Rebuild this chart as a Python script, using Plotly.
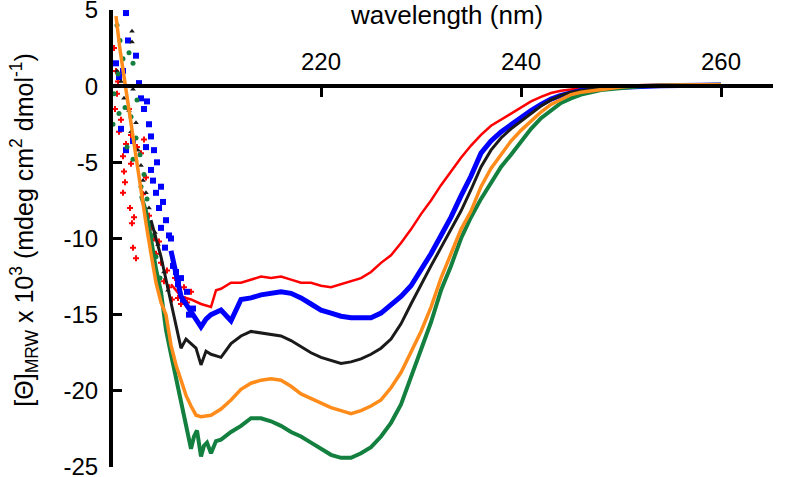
import plotly.graph_objects as go

# ---------------- data ----------------
tail_wl = [246, 248, 250, 252, 254, 256, 258, 260]

red_wl = [205, 206, 207, 208, 209, 209.5, 210, 211, 212, 213, 214, 215, 216, 217, 218, 219, 220,
          221, 222, 223, 224, 225, 226, 227, 228, 229, 230, 231, 232, 233, 234, 235, 236, 237,
          238, 239, 240, 241, 242, 243, 244, 245] + tail_wl
red_val = [-13.0, -13.8, -14.0, -14.3, -14.5, -13.4, -13.3, -12.9, -12.9, -12.7, -12.5, -12.6, -12.5,
           -12.7, -12.9, -12.9, -13.1, -13.2, -13.0, -12.8, -12.6, -12.2, -11.6, -11.1, -10.3, -9.4,
           -8.4, -7.5, -6.5, -5.6, -4.7, -3.9, -3.2, -2.6, -2.2, -1.8, -1.4, -1.0, -0.7, -0.45,
           -0.3, -0.2, -0.13, -0.05, 0.0, 0.05, 0.05, 0.08, 0.05, 0.1]
red_noise_wl = [199.3, 199.5, 199.6, 199.4, 199.8, 199.7, 200.0, 200.2, 200.3, 200.2, 200.4, 200.5,
                200.8, 201.0, 200.9, 201.1, 201.3, 201.2, 201.5, 201.0, 201.6, 202.0, 202.3, 202.5,
                202.2, 202.8, 203.0, 203.3, 203.5, 203.8, 204.0, 204.3, 204.6, 204.8, 205.1, 205.4,
                205.7, 206.0, 206.3, 206.6, 207.0]
red_noise_val = [2.5, 1.0, -0.5, -1.5, -3.0, 0.3, -2.2, -4.6, -5.6, -7.0, -6.3, -3.8, -1.5, -3.2,
                 -8.0, -9.0, -8.6, -10.6, -11.3, -5.1, -4.0, -4.4, -3.5, -6.0, -7.1, -8.5, -9.3,
                 -10.0, -11.0, -10.2, -11.6, -12.8, -12.1, -13.2, -14.0, -12.6, -13.9, -14.3,
                 -13.2, -14.2, -13.5]

blue_wl = [205, 206, 207, 208, 208.5, 209, 210, 211, 212, 213, 214, 215, 216, 217, 218, 219, 220,
           221, 222, 223, 224, 225, 226, 227, 228, 229, 230, 231, 232, 233, 234, 235, 236, 237,
           238, 239, 240, 241, 242, 243, 244, 245] + tail_wl
blue_val = [-10.8, -13.8, -14.8, -15.8, -15.3, -15.0, -14.7, -15.4, -14.0, -13.9, -13.7, -13.6, -13.5,
            -13.6, -13.9, -14.3, -14.7, -14.9, -15.1, -15.2, -15.2, -15.2, -14.9, -14.4, -13.8,
            -13.1, -12.1, -11.0, -9.8, -8.6, -7.2, -5.9, -4.4, -3.6, -3.0, -2.5, -2.0, -1.6, -1.2,
            -0.85, -0.6, -0.4, -0.28, -0.12, -0.05, 0.0, 0.03, 0.05, 0.05, 0.08]
blue_noise_wl = [200.5, 200.7, 199.5, 199.8, 200.2, 201.5, 201.8, 202.0, 202.3, 202.6, 202.8, 203.0,
                 202.5, 201.2, 200.5, 200.0, 203.3, 203.0, 203.6, 203.2, 203.5, 204.0, 203.8, 204.2,
                 204.5, 204.0, 204.8, 204.4, 205.0, 205.2, 205.5, 205.7, 206.0, 206.2, 206.6, 206.8,
                 207.2]
blue_noise_val = [4.8, 3.0, 1.5, 0.6, 1.0, 2.0, 0.2, -0.8, -1.5, -1.0, -2.5, -3.3, -4.0, -3.6, -4.2,
                  -2.8, -4.2, -5.5, -5.0, -6.2, -7.0, -6.6, -8.0, -7.6, -8.8, -9.3, -9.8, -10.6,
                  -10.0, -11.8, -12.2, -13.0, -12.6, -14.0, -13.5, -15.0, -14.6]

black_wl = [203, 204, 205, 205.5, 206, 206.5, 207, 207.5, 208, 208.5, 209, 210, 211, 212, 213, 214,
            215, 216, 217, 218, 219, 220, 221, 222, 223, 224, 225, 226, 227, 228, 229, 230, 231,
            232, 233, 234, 235, 236, 237, 238, 239, 240, 241, 242, 243, 244, 245] + tail_wl
black_val = [-8.8, -11.2, -14.2, -15.8, -17.2, -16.6, -16.9, -17.2, -18.3, -17.4, -17.6, -17.8, -16.9,
             -16.4, -16.1, -16.2, -16.3, -16.4, -16.7, -17.1, -17.5, -17.8, -18.0, -18.2, -18.1,
             -17.9, -17.6, -17.2, -16.6, -15.6, -14.3, -13.0, -11.8, -10.6, -9.4, -8.2, -6.8,
             -5.3, -4.2, -3.4, -2.8, -2.3, -1.8, -1.3, -0.9, -0.6, -0.4, -0.28, -0.12, -0.05,
             0.0, 0.03, 0.05, 0.05, 0.08]
black_noise_wl = [199.6, 200.0, 201.1, 201.1, 200.3, 200.8, 201.2, 201.5, 201.0, 201.7, 202.0, 202.2,
                  202.5, 202.8, 203.4, 203.7, 204.3, 204.7]
black_noise_val = [1.0, 0.3, 3.6, 2.9, -0.8, -1.6, -0.2, -2.4, -3.0, -4.2, -5.2, -6.2, -7.0, -8.0,
                   -9.6, -10.4, -12.2, -13.4]

orange_wl = [199.5, 199.9, 200.4, 200.9, 201.4, 202.0, 202.5, 203.0, 203.5, 204.0, 204.5, 205.0,
             205.5, 206.0, 206.5, 207.0, 207.5, 208, 209, 210, 211, 212, 213, 214, 215, 216, 217,
             218, 219, 220, 221, 222, 223, 224, 225, 226, 227, 228, 229, 230, 231, 232, 233, 234,
             235, 236, 237, 238, 239, 240, 241, 242, 243, 244, 245] + tail_wl
orange_val = [4.6, 2.4, 0.2, -2.0, -4.0, -7.0, -9.0, -11.0, -12.9, -14.2, -15.0, -17.0, -18.3, -19.3,
              -20.3, -21.0, -21.6, -21.7, -21.6, -21.2, -20.6, -19.9, -19.5, -19.3, -19.2, -19.3,
              -19.7, -20.2, -20.5, -20.8, -21.1, -21.3, -21.5, -21.3, -21.0, -20.6, -19.8, -18.8,
              -17.4, -16.1, -14.5, -12.6, -11.0, -9.4, -8.2, -6.6, -5.4, -4.5, -3.6, -2.9, -2.3,
              -1.7, -1.2, -0.85, -0.55, -0.4, -0.2, -0.05, 0.05, 0.08, 0.06, 0.1, 0.1]

green_wl = [202, 202.5, 203, 203.5, 204, 204.5, 205, 205.5, 206, 206.5, 207, 207.3, 207.6, 208,
            208.3, 208.6, 209, 209.5, 210, 211, 212, 213, 214, 215, 216, 217, 218, 219, 220, 221,
            222, 223, 224, 225, 226, 227, 228, 229, 230, 231, 232, 233, 234, 235, 236, 237, 238,
            239, 240, 241, 242, 243, 244, 245] + tail_wl
green_val = [-7.2, -8.2, -10.0, -12.0, -13.5, -16.0, -17.6, -19.2, -20.6, -22.2, -23.8, -23.0, -22.6,
             -24.3, -23.6, -23.4, -24.1, -23.3, -23.2, -22.7, -22.3, -21.8, -21.8, -22.0, -22.3,
             -22.7, -23.0, -23.4, -23.8, -24.2, -24.4, -24.4, -24.1, -23.7, -23.0, -22.1, -20.9,
             -19.1, -17.2, -15.5, -13.4, -11.8, -10.0, -8.6, -7.4, -6.3, -5.3, -4.5, -3.6, -2.8,
             -2.1, -1.6, -1.1, -0.8, -0.55, -0.25, -0.1, 0.0, 0.05, 0.05, 0.08, 0.1]
green_noise_wl = [199.6, 199.9, 200.2, 200.8, 201.2, 199.7, 199.3, 199.2, 199.8, 200.4, 201.0, 201.6,
                  201.5, 200.6, 201.9, 201.2, 202.3, 202.0, 202.6, 202.9, 203.3, 203.5, 203.9]
green_noise_val = [4.0, 3.0, 1.8, 2.2, 1.5, 0.8, -0.5, -2.5, -1.8, -1.4, -2.0, -0.9, -3.4, -4.0,
                   -4.5, -4.8, -5.8, -6.6, -7.4, -9.0, -9.8, -11.2, -12.6]

x_ticks = [220, 240, 260]
y_ticks = [5, 0, -5, -10, -15, -20, -25]
x_range = [199.2, 265.2]
y_range = [-25, 5]

# ---------------- colours / styles ----------------
RED, BLUE, BLACK, ORANGE, GREEN = "#ff0000", "#0000ff", "#1a1a1a", "#ff8c1a", "#138040"
FONT = "Arial, Liberation Sans, sans-serif"
TICK_SIZE = 24

fig = go.Figure()

def add_noise(wl, val, color, symbol, size):
    fig.add_trace(go.Scatter(x=wl, y=val, mode="markers",
                             marker=dict(color=color, symbol=symbol, size=size, line=dict(width=0)),
                             showlegend=False, hoverinfo="skip", cliponaxis=False))

def add_line(wl, val, color, width):
    fig.add_trace(go.Scatter(x=wl, y=val, mode="lines",
                             line=dict(color=color, width=width),
                             showlegend=False, hoverinfo="skip"))

add_noise(red_noise_wl, red_noise_val, RED, "cross", 5)
add_noise(blue_noise_wl, blue_noise_val, BLUE, "square", 6)
add_noise(black_noise_wl, black_noise_val, BLACK, "triangle-up", 5)
add_noise(green_noise_wl, green_noise_val, GREEN, "circle", 5)

add_line(red_wl, red_val, RED, 2.5)
add_line(blue_wl, blue_val, BLUE, 5)
add_line(black_wl, black_val, BLACK, 3)
add_line(green_wl, green_val, GREEN, 4)
add_line(orange_wl, orange_val, ORANGE, 3.5)

zero_pos = (0 - y_range[0]) / (y_range[1] - y_range[0])

fig.update_layout(
    width=800, height=477,
    margin=dict(l=113, r=27, t=10, b=10, autoexpand=False),
    paper_bgcolor="white", plot_bgcolor="white",
    font=dict(family=FONT, size=TICK_SIZE, color="black"),
    showlegend=False,
    xaxis=dict(range=x_range, tickvals=x_ticks, ticktext=[str(v) for v in x_ticks],
               side="top", anchor="free", position=zero_pos, automargin=False,
               showline=True, linecolor="black", linewidth=4,
               ticks="inside", ticklen=9, tickwidth=3, tickcolor="black",
               showgrid=False, zeroline=False, ticklabelstandoff=5,
               ticklabeloverflow="allow",
               tickfont=dict(family=FONT, size=TICK_SIZE, color="black")),
    yaxis=dict(range=y_range, tickvals=y_ticks, ticktext=[str(v) for v in y_ticks],
               automargin=False,
               showline=True, linecolor="black", linewidth=4,
               ticks="inside", ticklen=9, tickwidth=3, tickcolor="black",
               showgrid=False, zeroline=False, ticklabelstandoff=6,
               ticklabeloverflow="allow",
               tickfont=dict(family=FONT, size=TICK_SIZE, color="black")),
)

fig.add_annotation(text="wavelength (nm)", xref="paper", yref="paper",
                   x=0.505, y=0.99, xanchor="center", yanchor="middle", showarrow=False,
                   font=dict(family=FONT, size=26, color="black"))

fig.add_annotation(text="[\u0398]<sub>MRW</sub> x 10<sup>3</sup> (mdeg cm<sup>2</sup> dmol<sup>-1</sup>)",
                   xref="paper", yref="paper", x=-0.135, y=0.519, xanchor="center", yanchor="middle",
                   textangle=-90, showarrow=False,
                   font=dict(family=FONT, size=25, color="black"))

fig.write_html("out.html",
               config={"displayModeBar": False, "staticPlot": True},
               post_script="document.body.style.margin='0px';document.body.style.overflow='hidden';")
